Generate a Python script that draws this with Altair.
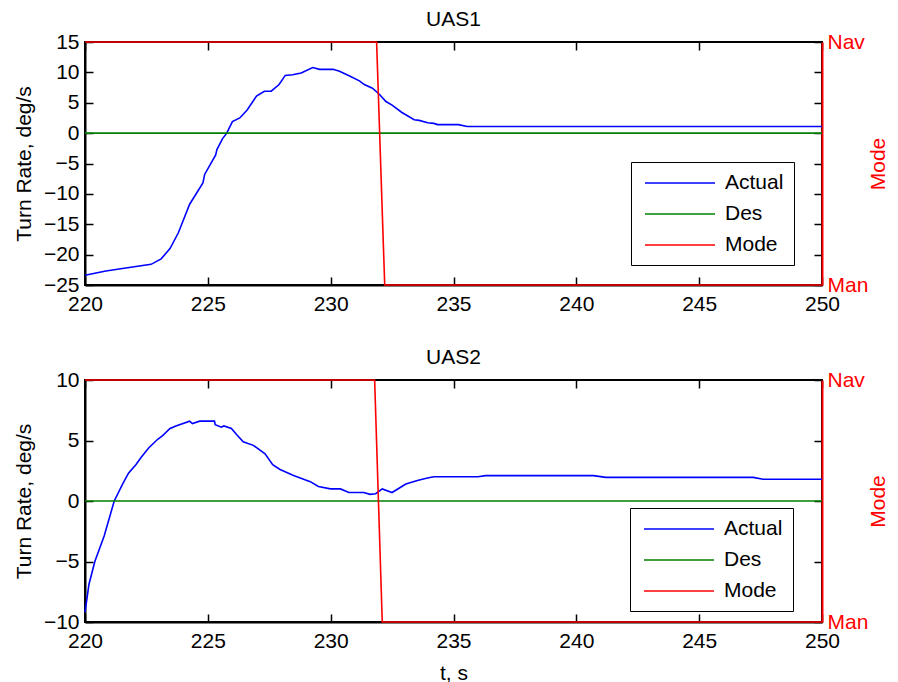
import altair as alt
import pandas as pd

FONT = "Liberation Sans"
SERIES = ["Actual", "Des", "Mode"]
COLORS = ["#0000ff", "#008000", "#ff0000"]
X_TICKS = [220, 225, 230, 235, 240, 245, 250]

# UAS1 turn rate (deg/s)
uas1_t = [220.0, 220.85, 221.66, 222.69, 223.1, 223.46, 223.8, 224.26, 224.8, 224.87,
          225.32, 225.37, 225.6, 225.77, 226.0, 226.3, 226.6, 226.98, 227.3, 227.58,
          227.9, 228.15, 228.45, 228.8, 229.27, 229.55, 230.1, 230.36, 230.77, 231.17,
          231.37, 231.7, 231.98, 232.25, 232.5, 232.9, 233.4, 233.6, 233.95, 234.2,
          234.35, 235.2, 235.56, 250.0]
uas1_v = [-23.4, -22.7, -22.2, -21.6, -20.7, -19.0, -16.4, -11.7, -8.2, -6.8,
          -3.6, -2.7, -0.9, 0.0, 1.9, 2.5, 3.8, 6.1, 6.9, 6.9,
          8.0, 9.5, 9.6, 9.9, 10.8, 10.5, 10.5, 10.2, 9.4, 8.6,
          8.0, 7.4, 6.4, 5.2, 4.6, 3.4, 2.2, 2.1, 1.7, 1.6,
          1.4, 1.4, 1.1, 1.1]
uas1_mode_t = [220.0, 231.87, 232.2, 250.0]
uas1_mode = [1, 1, 0, 0]

# UAS2 turn rate (deg/s)
uas2_t = [220.0, 220.16, 220.4, 220.78, 221.19, 221.53, 221.77, 222.07, 222.28, 222.6,
          222.96, 223.16, 223.46, 223.7, 224.26, 224.37, 224.67, 225.27, 225.3, 225.55,
          225.65, 225.96, 226.17, 226.44, 226.85, 227.33, 227.64, 227.94, 228.49, 229.17,
          229.5, 229.99, 230.4, 230.74, 231.35, 231.6, 231.83, 232.1, 232.5, 233.06,
          233.53, 233.94, 234.2, 236.0, 236.3, 240.7, 241.2, 247.2, 247.6, 250.0]
uas2_v = [-9.2, -6.9, -5.0, -2.9, 0.0, 1.4, 2.3, 3.0, 3.6, 4.4,
          5.1, 5.4, 6.0, 6.2, 6.6, 6.4, 6.6, 6.6, 6.3, 6.1,
          6.2, 6.0, 5.5, 4.9, 4.6, 3.9, 3.0, 2.6, 2.1, 1.6,
          1.2, 1.0, 1.0, 0.7, 0.7, 0.55, 0.6, 1.0, 0.7, 1.4,
          1.7, 1.9, 2.0, 2.0, 2.1, 2.1, 1.95, 1.95, 1.8, 1.8]
uas2_mode_t = [220.0, 231.79, 232.1, 250.0]
uas2_mode = [1, 1, 0, 0]

des_t = [220.0, 250.0]
des_v = [0.0, 0.0]

W = 737


def panel(title, act_t, act_v, mode_t, mode_v, ydom, yticks, h, leg_x, leg_y, xtitle):
    lr = pd.DataFrame({
        "t": act_t + des_t,
        "v": act_v + des_v,
        "series": ["Actual"] * len(act_t) + ["Des"] * len(des_t),
    })
    md = pd.DataFrame({"t": mode_t, "m": mode_v, "series": ["Mode"] * len(mode_t)})

    color = alt.Color(
        "series:N",
        scale=alt.Scale(domain=SERIES, range=COLORS),
        legend=alt.Legend(
            title=None, orient="none", legendX=leg_x, legendY=leg_y,
            symbolType="M-3.5,0H3.5", symbolSize=400, symbolStrokeWidth=1.5,
            symbolOffset=28, labelOffset=34, rowPadding=10, padding=10,
            labelFont=FONT, labelFontSize=21, labelColor="black",
            strokeColor="black", fillColor="white",
        ),
    )
    xaxis_kw = dict(
        values=X_TICKS, grid=True, gridDash=[8, h - 16, 8], gridColor="black",
        gridWidth=1.5, gridOpacity=1, ticks=False, domainColor="black", domainWidth=2,
        labelFont=FONT, labelFontSize=21, labelColor="black", labelPadding=8,
        labelFlush=False, labelOverlap=False, titleFont=FONT, titleFontSize=21,
        titleFontWeight="normal", titleColor="black", titlePadding=11, zindex=0,
    )
    if xtitle:
        xaxis = alt.Axis(title=xtitle, **xaxis_kw)
    else:
        xaxis = alt.Axis(title=None, **xaxis_kw)
    x = alt.X("t:Q", scale=alt.Scale(domain=[220, 250], nice=False, zero=False), axis=xaxis)

    lines = alt.Chart(lr).mark_line(strokeWidth=1.6).encode(
        x=x,
        y=alt.Y("v:Q", scale=alt.Scale(domain=ydom, nice=False, zero=False),
                axis=alt.Axis(
                    values=yticks, title="Turn Rate, deg/s", grid=True,
                    gridDash=[8, W - 16, 8], gridColor="black", gridWidth=1.5,
                    gridOpacity=1, ticks=False, domainColor="black", domainWidth=2,
                    labelFont=FONT, labelFontSize=21, labelColor="black",
                    labelPadding=6, labelFlush=False, labelOverlap=False,
                    titleFont=FONT, titleFontSize=21, titleFontWeight="normal",
                    titleColor="black", titlePadding=9, zindex=0)),
        color=color,
    )
    mode = alt.Chart(md).mark_line(strokeWidth=1.6).encode(
        x=x,
        y=alt.Y("m:Q", scale=alt.Scale(domain=[0, 1], nice=False, zero=False),
                axis=alt.Axis(
                    orient="right", values=[0, 1],
                    labelExpr="datum.value == 1 ? 'Nav' : 'Man'",
                    grid=False, ticks=False, domainColor="#ff0000", domainWidth=2,
                    labelFont=FONT, labelFontSize=21, labelColor="#ff0000",
                    labelPadding=5, labelFlush=False, labelOverlap=False,
                    title="Mode", titleFont=FONT, titleFontSize=21,
                    titleFontWeight="normal", titleColor="#ff0000", titleAngle=270,
                    titlePadding=21, zindex=0)),
        color=color,
    )
    return alt.layer(lines, mode).resolve_scale(y="independent").properties(
        width=W, height=h,
        title=alt.TitleParams(title, font=FONT, fontSize=21, fontWeight="normal",
                              color="black", offset=1),
    )


p1 = panel("UAS1", uas1_t, uas1_v, uas1_mode_t, uas1_mode, [-25, 15],
           [-25, -20, -15, -10, -5, 0, 5, 10, 15], 243, 546, 120, None)
p2 = panel("UAS2", uas2_t, uas2_v, uas2_mode_t, uas2_mode, [-10, 10],
           [-10, -5, 0, 5, 10], 242, 545, 128, "t, s")

chart = alt.vconcat(p1, p2, spacing=31).resolve_scale(color="independent").configure_view(
    stroke="black", strokeWidth=2
).properties(padding={"left": 4, "top": 0, "right": 0, "bottom": 0}, background="white")

chart.save("out.html", embed_options={"renderer": "svg", "actions": False})
